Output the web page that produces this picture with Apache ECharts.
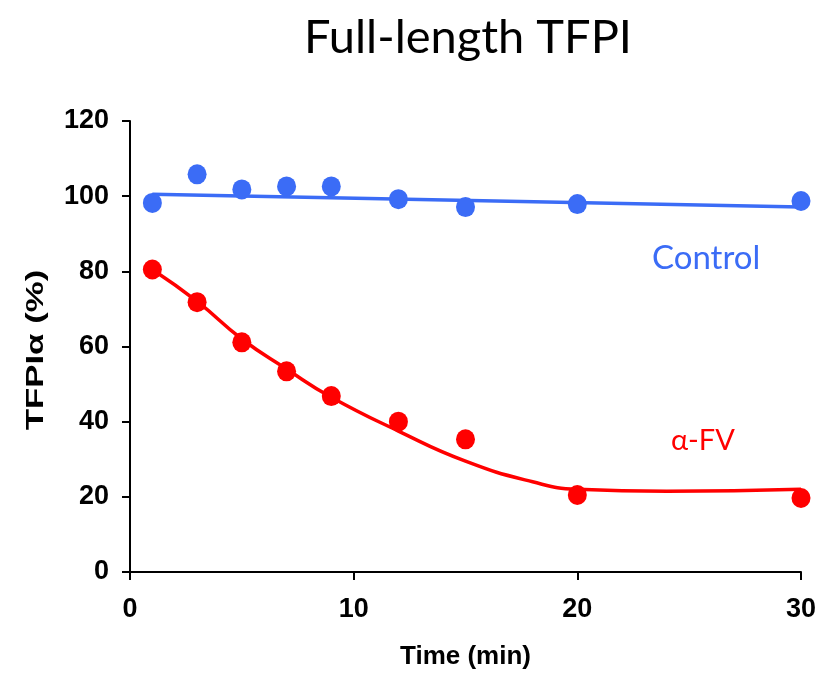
<!DOCTYPE html>
<html>
<head>
<meta charset="utf-8">
<script src="https://cdn.jsdelivr.net/npm/echarts@6/dist/echarts.min.js"></script>
<style>html,body{margin:0;padding:0;background:#fff}#c{width:828px;height:675px}</style>
</head>
<body>
<div id="c"></div>
<script>
var times = [1, 3, 5, 7, 9, 12, 15, 20, 30];
var controlValues = [98.2, 105.8, 101.8, 102.6, 102.6, 99.2, 97.1, 97.9, 98.7];
var afvValues = [80.5, 71.8, 61.1, 53.4, 46.8, 40.0, 35.3, 20.5, 19.7];
var controlFitX = [1, 30];
var controlFitY = [100.5, 97.1];
var afvFitX = [1, 3, 5, 7, 9, 12, 15, 18, 20, 24, 30];
var afvFitY = [80.5, 72.0, 62.0, 54.0, 46.5, 37.5, 29.5, 24.0, 22.0, 21.5, 22.0];
var xTicks = [0, 10, 20, 30];
var yTicks = [0, 20, 40, 60, 80, 100, 120];

function pairs(xs, ys) { return xs.map(function (x, i) { return [x, ys[i]]; }); }

var blue = '#3b6cf6';
var red = '#ff0000';
var chart = echarts.init(document.getElementById('c'));
chart.setOption({
  animation: false,
  title: {
    text: 'Full-length TFPI',
    left: 463, top: 9, textAlign: 'center',
    textStyle: { fontFamily: 'Lato', fontWeight: 'normal', fontSize: 47, color: '#000' }
  },
  grid: { left: 130, right: 27, top: 121, bottom: 99, containLabel: false },
  xAxis: {
    type: 'value', min: xTicks[0], max: xTicks[xTicks.length - 1], interval: 10,
    name: 'Time (min)', nameLocation: 'middle', nameGap: 72,
    nameTextStyle: { fontFamily: 'Liberation Sans', fontWeight: 'bold', fontSize: 26, color: '#000' },
    axisLine: { show: true, lineStyle: { color: '#000', width: 2 } },
    axisTick: { show: true, length: 8, lineStyle: { color: '#000', width: 2 } },
    axisLabel: { margin: 24, fontFamily: 'Liberation Sans', fontWeight: 'bold', fontSize: 27, color: '#000' },
    splitLine: { show: false }
  },
  yAxis: {
    type: 'value', min: yTicks[0], max: yTicks[yTicks.length - 1], interval: 20,
    axisLine: { show: true, lineStyle: { color: '#000', width: 2 } },
    axisTick: { show: true, length: 8, lineStyle: { color: '#000', width: 2 } },
    axisLabel: { margin: 21, fontFamily: 'Liberation Sans', fontWeight: 'bold', fontSize: 27, color: '#000' },
    splitLine: { show: false }
  },
  series: [
    { type: 'line', data: pairs(controlFitX, controlFitY), symbol: 'none',
      lineStyle: { color: blue, width: 3.5 }, z: 2 },
    { type: 'line', data: pairs(afvFitX, afvFitY), symbol: 'none', smooth: 0.5,
      lineStyle: { color: red, width: 3.5 }, z: 2 },
    { type: 'scatter', data: pairs(times, controlValues), symbol: 'circle', symbolSize: [19, 20],
      itemStyle: { color: blue, opacity: 1 }, z: 3 },
    { type: 'scatter', data: pairs(times, afvValues), symbol: 'circle', symbolSize: [19, 20],
      itemStyle: { color: red, opacity: 1 }, z: 3 }
  ],
  graphic: [
    { type: 'text', x: 36, y: 350, rotation: Math.PI / 2, scaleX: 1.45,
      style: { text: 'TFPIα (%)', fill: '#000', fontFamily: 'Liberation Sans', fontWeight: 'bold',
               fontSize: 24, align: 'center', verticalAlign: 'middle' } },
    { type: 'text', left: 652, top: 242,
      style: { text: 'Control', fill: blue, fontFamily: 'Lato', fontSize: 33 } },
    { type: 'text', left: 671, top: 426,
      style: { text: 'α-FV', fill: red, fontFamily: 'Lato', fontSize: 29 } }
  ]
});
</script>
</body>
</html>
